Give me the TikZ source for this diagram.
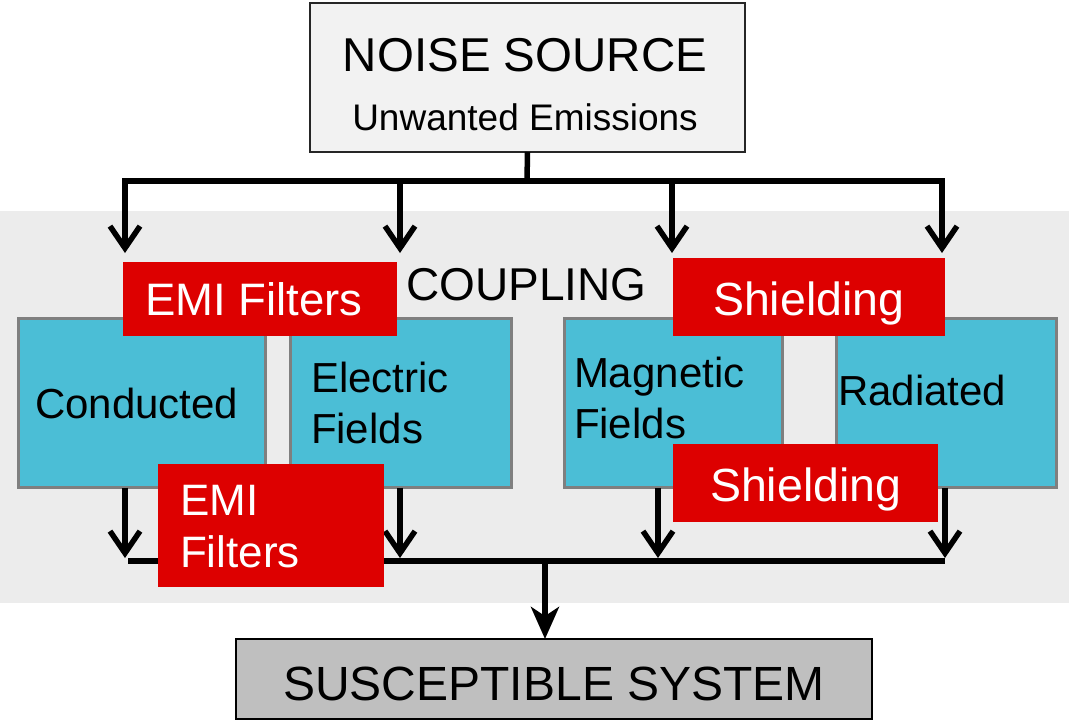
\documentclass[tikz,border=0pt]{standalone}
\usepackage{fontspec}
\setmainfont{Liberation Sans}
\usetikzlibrary{arrows.meta}
\definecolor{cyanbox}{HTML}{4BBED6}
\definecolor{boxedge}{HTML}{7F7F7F}
\definecolor{redfill}{HTML}{DD0000}
\definecolor{zonegray}{HTML}{ECECEC}
\definecolor{srcgray}{HTML}{F2F2F2}
\definecolor{sysgray}{HTML}{BFBFBF}
\definecolor{srcedge}{HTML}{262626}
\begin{document}
\begin{tikzpicture}[x=1pt,y=-1pt,
  plainbox/.style={rectangle, inner sep=0pt, outer sep=0pt},
  coupbox/.style={plainbox, fill=cyanbox, draw=boxedge, line width=3pt},
  redbox/.style={plainbox, fill=redfill},
  lbl/.style={inner sep=0pt, outer sep=0pt, anchor=base west, font=\fontsize{42}{50}\selectfont},
  redlbl/.style={lbl, text=white, font=\fontsize{44}{52}\selectfont},
  wire/.style={line width=5.5pt, line join=miter},
  flow/.style={wire, -{Straight Barb[length=22pt,width=30pt]}},
  flowS/.style={wire, -{Stealth[length=32pt,width=28pt,inset=9pt]}}]
\useasboundingbox (0,0) rectangle (1069,721);

% coupling zone
\fill[zonegray] (0,211) rectangle (1069,603);

% source and victim
\node[plainbox, fill=srcgray, draw=srcedge, line width=2pt,
      minimum width=435pt, minimum height=149pt] (noise) at (527.5,77.5) {};
\node[inner sep=0pt, anchor=base, font=\fontsize{47.5}{50}\selectfont] (noiseT) at (525,71) {NOISE SOURCE};
\node[inner sep=0pt, anchor=base, font=\fontsize{37}{40}\selectfont] (noiseS) at (525,130) {Unwanted Emissions};

\node[plainbox, fill=sysgray, draw=black, line width=2pt,
      minimum width=636pt, minimum height=80pt] (sus) at (554,679) {};
\node[inner sep=0pt, anchor=base, font=\fontsize{48}{50}\selectfont] (susT) at (554,700) {SUSCEPTIBLE SYSTEM};

\node[inner sep=0pt, anchor=base, font=\fontsize{46}{50}\selectfont] (coupT) at (526.5,300) {COUPLING};

% coupling paths
\node[coupbox, minimum width=247pt, minimum height=169pt] (cond) at (141.5,403) {};
\node[coupbox, minimum width=221pt, minimum height=169pt] (elec) at (400.5,403) {};
\node[coupbox, minimum width=218pt, minimum height=169pt] (magn) at (673,403) {};
\node[coupbox, minimum width=220pt, minimum height=169pt] (rad)  at (946,403) {};

% distribution bar from the source
\coordinate (jt) at (527,181);
\coordinate (tl) at (125,181);
\coordinate (tr) at (942,181);
\coordinate (a1) at (125,253);
\coordinate (a2) at (400,253);
\coordinate (a3) at (672,253);
\coordinate (a4) at (942,253);
\draw[wire] (noise.south) -- (jt);
\draw[flow] (jt) -- (tl) -- (a1);
\draw[flow] (jt) -- (tr) -- (a4);
\draw[flow] (a2 |- jt) -- (a2);
\draw[flow] (a3 |- jt) -- (a3);

% collecting bar towards the victim
\coordinate (b1) at (125,558);
\coordinate (b2) at (400,558);
\coordinate (b3) at (658,558);
\coordinate (b4) at (945,558);
\coordinate (bl) at (128,561);
\coordinate (br) at (945,561);
\coordinate (jb) at (545,561);
\draw[flow] (cond.south -| b1) -- (b1);
\draw[flow] (elec.south -| b2) -- (b2);
\draw[flow] (magn.south -| b3) -- (b3);
\draw[flow] (rad.south -| b4) -- (b4);
\draw[wire] (bl) -- (br);
\draw[flowS] (jb) -- (jb |- sus.north);

% path labels
\node[lbl] (condT) at (35,418) {Conducted};
\node[lbl] (elecT1) at (311,392) {Electric};
\node[lbl] (elecT2) at (311,443) {Fields};
\node[lbl] (magnT1) at (574,387) {Magnetic};
\node[lbl] (magnT2) at (574,438) {Fields};
\node[lbl] (radT) at (838,405) {Radiated};

% countermeasures
\node[redbox, minimum width=274pt, minimum height=74pt] (emiA) at (260,299) {};
\node[redbox, minimum width=272pt, minimum height=78pt] (shA) at (809,297) {};
\node[redbox, minimum width=226pt, minimum height=123pt] (emiB) at (271,525.5) {};
\node[redbox, minimum width=265pt, minimum height=78pt] (shB) at (805.5,483) {};
\node[redlbl, font=\fontsize{45.5}{52}\selectfont] (emiAT) at (145,315) {EMI Filters};
\node[redlbl, font=\fontsize{46.5}{52}\selectfont] (shAT) at (713,315) {Shielding};
\node[redlbl, font=\fontsize{46.5}{52}\selectfont] (shBT) at (710,501) {Shielding};
\node[redlbl] (emiBT1) at (180,515) {EMI};
\node[redlbl] (emiBT2) at (180,567) {Filters};
\end{tikzpicture}
\end{document}
